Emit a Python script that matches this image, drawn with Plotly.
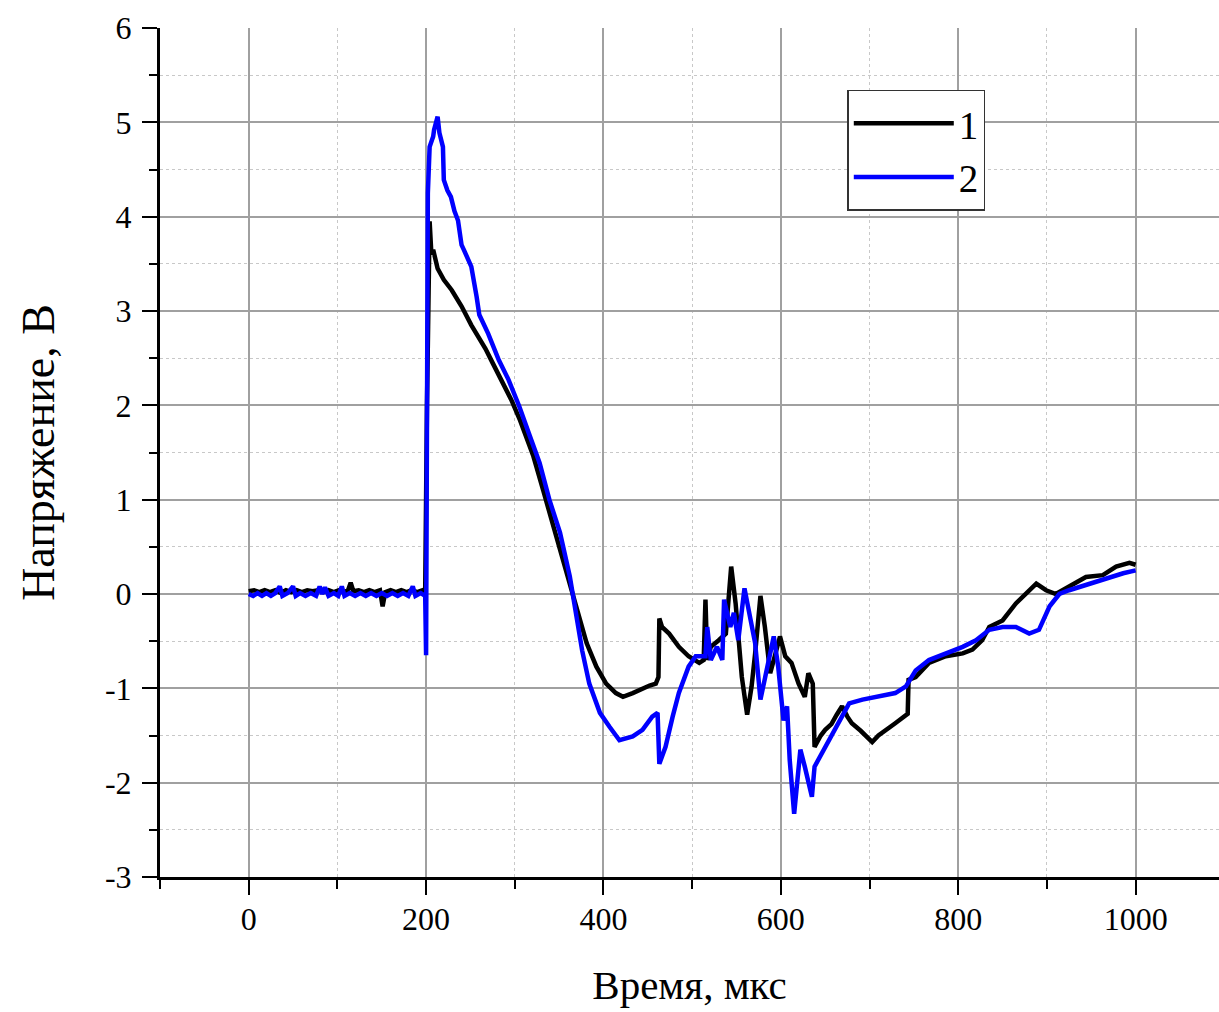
import plotly.graph_objects as go

# ---- data ----
t1 = [0, 6, 12, 18, 24, 30, 36, 42, 48, 54, 60, 66, 72, 78, 84, 90, 96, 102, 108, 112, 115, 118,
      124, 130, 136, 142, 148, 151, 154, 160, 166, 172, 178, 184, 190, 196, 199, 199.5, 201, 203,
      204, 206, 208, 213, 220, 229, 240, 251, 260, 267, 275, 283, 290, 296, 306, 314, 321, 332,
      344, 355, 366, 373, 381, 392, 403, 414, 422, 433, 444, 452, 459, 462, 463, 466, 474, 485,
      496, 508, 513, 515, 517, 521, 530, 538, 541, 544, 549, 553, 556, 562, 567, 571, 577, 582,
      588, 594, 599, 605, 612, 620, 627, 631, 636, 638, 645, 650, 657, 663, 669, 675, 680, 690,
      703, 710, 718, 729, 743, 744, 752, 767, 786, 805, 816, 827, 835, 850, 865, 876, 888, 899,
      910, 925, 944, 963, 978, 993, 1000]
v1 = [0.03, 0.04, 0.02, 0.04, 0.02, 0.04, 0.01, 0.04, 0.02, 0.04, 0.02, 0.04, 0.03, 0.04, 0.02,
      0.04, 0.02, 0.04, 0.02, 0.04, 0.12, 0.03, 0.04, 0.02, 0.04, 0.02, 0.04, -0.13, 0.02, 0.04,
      0.02, 0.04, 0.02, 0.04, 0.02, 0.04, 0.02, 0.82, 2.0, 3.3, 3.95, 3.6, 3.65, 3.45, 3.33, 3.22,
      3.05, 2.85, 2.72, 2.6, 2.45, 2.31, 2.18, 2.06, 1.84, 1.65, 1.46, 1.10, 0.71, 0.36, 0.01,
      -0.24, -0.52, -0.77, -0.95, -1.05, -1.09, -1.05, -1.0, -0.97, -0.95, -0.88, -0.26, -0.35,
      -0.42, -0.56, -0.66, -0.73, -0.70, -0.06, -0.70, -0.56, -0.49, -0.42, -0.06, 0.29, -0.10,
      -0.52, -0.88, -1.28, -0.98, -0.63, -0.02, -0.35, -0.84, -0.63, -0.45, -0.66, -0.73, -0.95,
      -1.09, -0.84, -0.95, -1.62, -1.5, -1.44, -1.38, -1.28, -1.19, -1.30, -1.37, -1.45, -1.57,
      -1.5, -1.44, -1.37, -1.27, -0.91, -0.88, -0.73, -0.66, -0.63, -0.59, -0.49, -0.35, -0.28,
      -0.10, 0.0, 0.11, 0.04, 0.0, 0.08, 0.18, 0.20, 0.29, 0.33, 0.31]

t2 = [0, 5, 10, 15, 20, 25, 30, 35, 38, 44, 50, 53, 58, 64, 70, 76, 80, 83, 86, 90, 96, 101,
      105, 108, 114, 120, 126, 132, 138, 144, 150, 156, 162, 168, 174, 180, 185, 188, 194, 199,
      200, 201, 202, 204, 208, 209, 213, 215, 219, 220, 224, 228, 232, 236, 240, 243, 249, 251,
      257, 260, 270, 282, 293, 305, 316, 328, 339, 351, 362, 370, 376, 384, 396, 407, 418, 433,
      444, 455, 461, 463, 470, 478, 485, 496, 504, 515, 517, 521, 528, 534, 536, 543, 547, 552,
      559, 566, 571, 577, 582, 592, 597, 603, 607, 610, 615, 622, 627, 635, 638, 650, 654, 665,
      677, 692, 711, 729, 741, 752, 767, 786, 805, 820, 835, 850, 865, 880, 891, 903, 914, 925,
      948, 971, 986, 1000]
v2 = [0.0, -0.02, 0.01, -0.02, 0.01, -0.02, 0.01, 0.08, -0.02, 0.01, 0.08, -0.02, 0.01, -0.02,
      0.01, -0.02, 0.08, 0.0, 0.07, -0.02, 0.01, -0.02, 0.08, -0.02, 0.01, -0.02, 0.01, -0.02, 0.01,
      -0.02, 0.01, -0.02, 0.01, -0.02, 0.01, -0.02, 0.08, -0.02, 0.01, -0.02, -0.65, 1.0, 4.25,
      4.74, 4.85, 4.92, 5.06, 4.89, 4.74, 4.39, 4.28, 4.21, 4.06, 3.96, 3.7, 3.64, 3.50, 3.47,
      3.15, 2.96, 2.76, 2.48, 2.27, 1.99, 1.70, 1.39, 1.00, 0.65, 0.19, -0.25, -0.6, -0.95,
      -1.26, -1.41, -1.55, -1.51, -1.44, -1.30, -1.26, -1.80, -1.62, -1.30, -1.05, -0.77, -0.66,
      -0.66, -0.35, -0.70, -0.56, -0.70, -0.06, -0.35, -0.20, -0.49, 0.06, -0.28, -0.52, -1.12,
      -0.91, -0.45, -0.77, -1.34, -1.19, -1.76, -2.33, -1.65, -1.83, -2.15, -1.83, -1.62, -1.55,
      -1.37, -1.16, -1.12, -1.09, -1.05, -0.98, -0.81, -0.70, -0.63, -0.56, -0.49, -0.38, -0.35,
      -0.35, -0.42, -0.38, -0.13, 0.0, 0.04, 0.11, 0.18, 0.22, 0.25]

series_names = ["1", "2"]
series_colors = ["#000000", "#0000ff"]

x_tickvals = [0, 200, 400, 600, 800, 1000]
x_ticktext = ["0", "200", "400", "600", "800", "1000"]
y_tickvals = [-3, -2, -1, 0, 1, 2, 3, 4, 5, 6]
y_ticktext = ["-3", "-2", "-1", "0", "1", "2", "3", "4", "5", "6"]

x_title = "Время, мкс"
y_title = "Напряжение, В"

FONT = "Liberation Serif"

fig = go.Figure()
for t, v, name, col in zip([t1, t2], [v1, v2], series_names, series_colors):
    fig.add_trace(go.Scatter(x=t, y=v, mode="lines", name=name,
                             line=dict(color=col, width=4.5)))

axis_common = dict(
    showline=True, linecolor="black", linewidth=3,
    ticks="outside", ticklen=15, tickwidth=2, tickcolor="black",
    showgrid=True, gridcolor="#a0a0a0", gridwidth=1.5,
    zeroline=False,
    tickfont=dict(family=FONT, size=32, color="black"),
    mirror=False,
)

fig.update_xaxes(
    range=[-100, 1094], tickmode="array", tickvals=x_tickvals, ticktext=x_ticktext,
    title=dict(text=x_title, font=dict(family=FONT, size=41, color="black"), standoff=34),
    minor=dict(dtick=100, tick0=0, ticks="outside", ticklen=9, tickwidth=2, tickcolor="black",
               showgrid=True, gridcolor="#c8c8c8", griddash="dot", gridwidth=1),
    ticklabelstandoff=-3,
    **axis_common,
)
fig.update_yaxes(
    range=[-3, 6], tickmode="array", tickvals=y_tickvals, ticktext=y_ticktext,
    title=dict(text=y_title, font=dict(family=FONT, size=46, color="black"), standoff=36),
    minor=dict(dtick=0.5, tick0=0, ticks="outside", ticklen=8, tickwidth=2, tickcolor="black",
               showgrid=True, gridcolor="#c8c8c8", griddash="dot", gridwidth=1),
    ticklabelstandoff=4,
    **axis_common,
)

fig.update_layout(
    width=1219, height=1012,
    margin=dict(l=160, r=0, t=28, b=135),
    plot_bgcolor="white", paper_bgcolor="white",
    font=dict(family=FONT, color="black"),
    legend=dict(x=0.649, y=0.927, xanchor="left", yanchor="top",
                bgcolor="white", bordercolor="#333333", borderwidth=1.5,
                font=dict(family=FONT, size=39, color="black"),
                itemwidth=100, tracegroupgap=0),
    showlegend=True,
)

fig.write_html("out.html")
